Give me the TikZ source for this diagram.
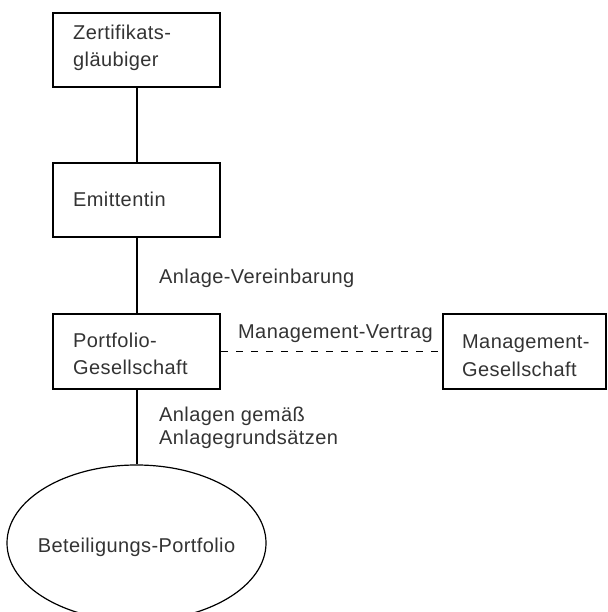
\documentclass[tikz,border=0pt]{standalone}
\usepackage{fontspec}
\setmainfont{Liberation Sans}[LetterSpace=2.0]
\usetikzlibrary{shapes.geometric}
\begin{document}
\begin{tikzpicture}[x=1pt,y=-1pt,
  box/.style={draw,line width=2pt,inner sep=0pt,minimum width=167pt,minimum height=74pt},
  ell/.style={draw,ellipse,line width=1.2pt,inner sep=0pt,minimum width=259pt,minimum height=156pt},
  lbl/.style={anchor=base west,inner sep=0pt,text=black!80,font=\fontsize{20pt}{24pt}\selectfont},
  conn/.style={line width=2pt},
  dashconn/.style={line width=1.8pt,dash pattern=on 7pt off 8pt}]
\useasboundingbox (0,0) rectangle (607,612);
\clip (0,0) rectangle (607,612);
% boxes
\node[box] (b1) at (136.5,50) {};
\node[box] (b2) at (136.5,200) {};
\node[box,minimum height=75pt] (b3) at (136.5,351.5) {};
\node[box,minimum height=75pt,minimum width=163pt] (b4) at (524.5,351.5) {};
\node[ell] (e1) at (136.5,543) {};
% connectors
\draw[conn] (b1.south) -- (b2.north);
\draw[conn] (b2.south) -- (b3.north);
\draw[conn] (b3.south) -- (e1.north);
\draw[dashconn] (b3.east) -- (b4.west);
% texts
\node[lbl] (t1a) at (73,40) {Zertifikats-};
\node[lbl] (t1b) at (73,67) {gläubiger};
\node[lbl] (t2) at (73,207) {Emittentin};
\node[lbl] (t3a) at (73,347) {Portfolio-};
\node[lbl] (t3b) at (73,374.5) {Gesellschaft};
\node[lbl] (t4a) at (462,348) {Management-};
\node[lbl] (t4b) at (462,376) {Gesellschaft};
\node[lbl] (l1) at (159,283) {Anlage-Vereinbarung};
\node[lbl] (l2) at (238,338) {Management-Vertrag};
\node[lbl] (l3a) at (159,421) {Anlagen gemäß};
\node[lbl] (l3b) at (159,444) {Anlagegrundsätzen};
\node[lbl,anchor=base] (t5) at (136.5,552) {Beteiligungs-Portfolio};
\end{tikzpicture}
\end{document}
